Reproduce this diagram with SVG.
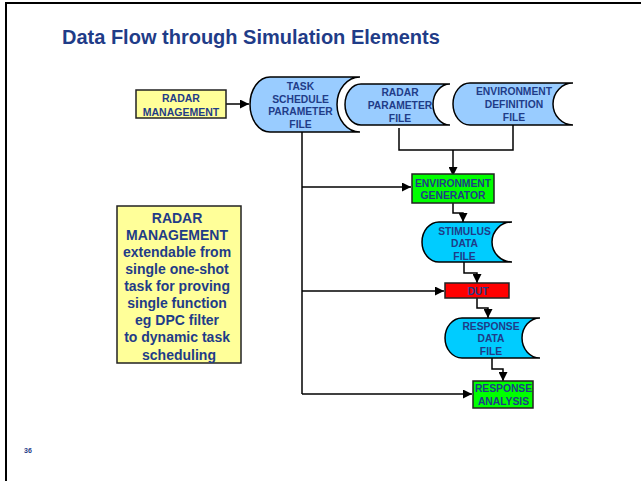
<svg xmlns="http://www.w3.org/2000/svg" width="641" height="481" viewBox="0 0 641 481">
<style>
.t{font-family:"Liberation Sans",Arial,sans-serif;font-weight:bold;fill:#1F3C88;text-anchor:middle}
.n{font-size:10.3px}
.file1{fill:#99CCFF;stroke:#000;stroke-width:1.5}
.file2{fill:#00CCFF;stroke:#000;stroke-width:1.5}
.halo{fill:none;stroke:#fff;stroke-width:6}
.box{stroke:#222;stroke-width:1.5}
.c{fill:none;stroke:#000;stroke-width:1.5}
</style>
<defs>
<marker id="ah" viewBox="0 0 10 10" refX="10" refY="5" markerWidth="9" markerHeight="9" markerUnits="userSpaceOnUse" orient="auto">
<path d="M0,0 L10,5 L0,10 z" fill="#000"/>
</marker>
</defs>
<rect width="641" height="481" fill="#fff"/>
<path d="M6,481 V3 H641" fill="none" stroke="#000" stroke-width="2"/>
<text class="t" x="62" y="44" style="font-size:20px;text-anchor:start">Data Flow through Simulation Elements</text>
<text class="t" x="28" y="453" style="font-size:7px">36</text>

<g id="connectors">
<path class="c" d="M226,104 H249" marker-end="url(#ah)"/>
<path class="c" d="M302,132 V394"/>
<path class="c" d="M302,187 H411" marker-end="url(#ah)"/>
<path class="c" d="M302,291 H444" marker-end="url(#ah)"/>
<path class="c" d="M302,394 H472" marker-end="url(#ah)"/>
<path class="c" d="M399,125 V150 H513 V125"/>
<path class="c" d="M453,150 V176" marker-end="url(#ah)"/>
<path class="c" d="M453,203 V213 H463 V222" marker-end="url(#ah)"/>
<path class="c" d="M464,262 V273 H477 V283" marker-end="url(#ah)"/>
<path class="c" d="M477,298 V308 H488 V318" marker-end="url(#ah)"/>
<path class="c" d="M492,358 V369 H503 V381" marker-end="url(#ah)"/>
</g>

<g id="radar-management">
<rect class="box" x="136" y="90" width="90" height="28" fill="#FFFF99"/>
<text class="t" x="181" y="101.5" style="font-size:10.5px">RADAR</text>
<text class="t" x="181" y="115.5" style="font-size:10.5px">MANAGEMENT</text>
</g>

<g id="task-schedule-file">
<path class="file1" d="M270,77 H360 A23,27.5 0 0 0 360,132 H270 A20,27.5 0 0 1 270,77 Z"/>
<text class="t n" x="300.5" y="90">TASK</text>
<text class="t n" x="300.5" y="102.5">SCHEDULE</text>
<text class="t n" x="300.5" y="115">PARAMETER</text>
<text class="t n" x="300.5" y="127.5">FILE</text>
</g>

<g id="radar-parameter-file">
<path class="halo" d="M361,84 H450 A17,20.5 0 0 0 450,125 H361 A16,20.5 0 0 1 361,84 Z"/>
<path class="file1" d="M361,84 H450 A17,20.5 0 0 0 450,125 H361 A16,20.5 0 0 1 361,84 Z"/>
<text class="t n" x="400" y="95.5">RADAR</text>
<text class="t n" x="400" y="108.5">PARAMETER</text>
<text class="t n" x="400" y="122">FILE</text>
</g>

<g id="environment-definition-file">
<path class="file1" d="M470,83 H573 A20,21 0 0 0 573,125 H470 A17,21 0 0 1 470,83 Z"/>
<text class="t n" x="514" y="94.5">ENVIRONMENT</text>
<text class="t n" x="514" y="108">DEFINITION</text>
<text class="t n" x="514" y="120.5">FILE</text>
</g>

<g id="environment-generator">
<rect class="box" x="412" y="174" width="82" height="29" fill="#00FF00"/>
<text class="t n" x="453" y="186.5">ENVIRONMENT</text>
<text class="t n" x="453" y="198.5">GENERATOR</text>
</g>

<g id="stimulus-data-file">
<path class="file2" d="M439,222 H512 A20,20 0 0 0 512,262 H439 A17,20 0 0 1 439,222 Z"/>
<text class="t n" x="464.5" y="234.5">STIMULUS</text>
<text class="t n" x="464.5" y="247">DATA</text>
<text class="t n" x="464.5" y="259.5">FILE</text>
</g>

<g id="dut">
<rect class="box" x="445" y="283" width="64" height="15" fill="#FF0000"/>
<text class="t n" x="478" y="294.5">DUT</text>
</g>

<g id="response-data-file">
<path class="file2" d="M462,318 H540 A18,20 0 0 0 540,358 H462 A17,20 0 0 1 462,318 Z"/>
<text class="t n" x="491" y="329.5">RESPONSE</text>
<text class="t n" x="491" y="342">DATA</text>
<text class="t n" x="491" y="354.5">FILE</text>
</g>

<g id="response-analysis">
<rect class="box" x="473" y="381" width="60" height="27" fill="#00FF00"/>
<text class="t n" x="503.5" y="392">RESPONSE</text>
<text class="t n" x="503.5" y="404.5">ANALYSIS</text>
</g>

<g id="note">
<rect class="box" x="117" y="206" width="124" height="157" fill="#FFFF99"/>
<text class="t" style="font-size:14px">
<tspan x="179" y="222.7">RADAR</tspan>
<tspan x="179" y="239.8">MANAGEMENT</tspan>
<tspan x="179" y="256.9">extendable from</tspan>
<tspan x="179" y="274">single one-shot</tspan>
<tspan x="179" y="291.1">task for proving</tspan>
<tspan x="179" y="308.2">single function</tspan>
<tspan x="179" y="325.3">eg DPC filter</tspan>
<tspan x="179" y="342.4">to dynamic task</tspan>
<tspan x="179" y="359.5">scheduling</tspan>
</text>
</g>
</svg>
